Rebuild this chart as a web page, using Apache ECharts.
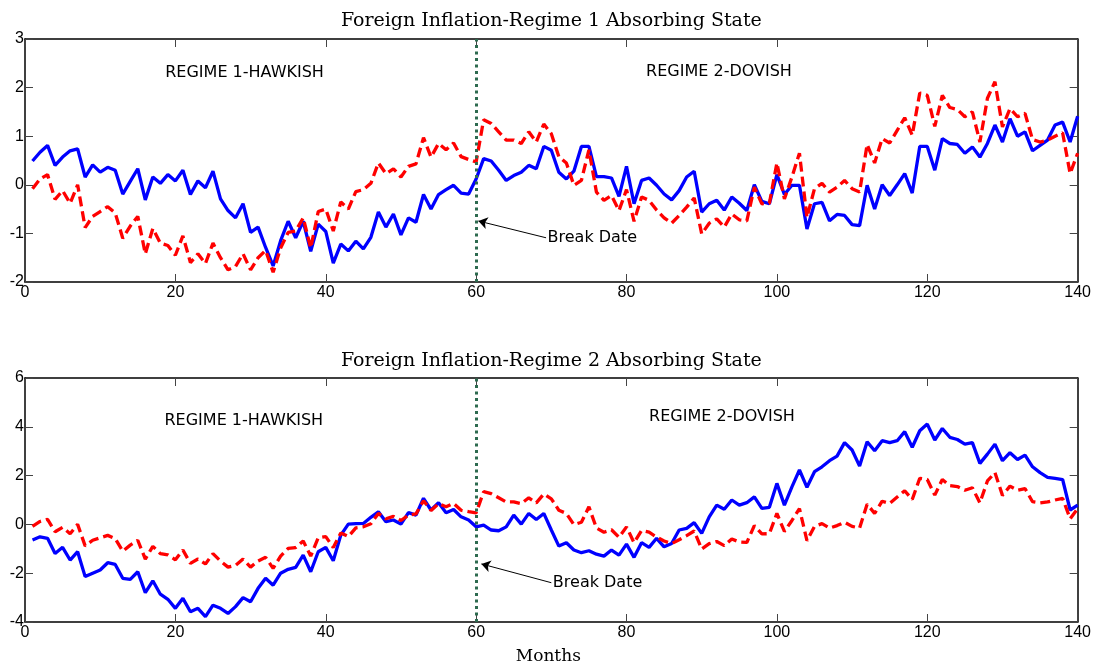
<!DOCTYPE html>
<html>
<head>
<meta charset="utf-8">
<script src="https://cdn.jsdelivr.net/npm/echarts@6/dist/echarts.min.js"></script>
<style>html,body{margin:0;padding:0;background:#fff}#c{width:1094px;height:666px}</style>
</head>
<body>
<div id="c"></div>
<script>
// Months 1..140
const months = Array.from({length: 140}, (_, i) => i + 1);

// Red dashed series (same path in both panels)
const redSeries = [
-0.08,0.12,0.21,-0.3,-0.12,-0.38,0.0,-0.88,-0.65,-0.55,
-0.45,-0.58,-1.1,-0.85,-0.65,-1.42,-0.9,-1.2,-1.25,-1.45,
-1.05,-1.6,-1.42,-1.62,-1.2,-1.5,-1.75,-1.68,-1.42,-1.75,
-1.5,-1.35,-1.8,-1.3,-0.98,-0.95,-0.68,-1.3,-0.55,-0.5,
-0.95,-0.35,-0.5,-0.14,-0.1,0.03,0.45,0.23,0.33,0.16,
0.38,0.43,0.97,0.57,0.85,0.72,0.86,0.58,0.52,0.47,
1.34,1.26,1.09,0.92,0.92,0.85,1.09,0.88,1.25,1.05,
0.58,0.45,-0.01,0.09,0.72,-0.15,-0.32,-0.22,-0.53,-0.1,
-0.75,-0.25,-0.32,-0.52,-0.68,-0.79,-0.63,-0.46,-0.27,-1.01,
-0.79,-0.7,-0.87,-0.6,-0.72,-0.74,-0.05,-0.39,-0.38,0.45,
-0.29,0.16,0.65,-0.67,-0.08,0.03,-0.15,-0.05,0.09,-0.08,
-0.15,0.83,0.45,0.95,0.86,1.12,1.38,1.02,1.89,1.84,
1.2,1.84,1.59,1.55,1.4,1.5,0.88,1.78,2.12,1.19,
1.57,1.4,1.47,0.93,0.88,0.92,1.0,1.07,0.23,0.65
];

// Blue solid series, top panel (Regime 1 absorbing)
const blueTop = [
0.49,0.67,0.81,0.40,0.57,0.70,0.74,0.16,0.41,0.26,
0.36,0.30,-0.19,0.07,0.33,-0.31,0.16,0.03,0.21,0.08,
0.30,-0.20,0.08,-0.06,0.28,-0.29,-0.53,-0.68,-0.39,-0.98,
-0.87,-1.29,-1.67,-1.15,-0.75,-1.09,-0.75,-1.37,-0.81,-0.96,
-1.61,-1.22,-1.36,-1.16,-1.32,-1.08,-0.56,-0.87,-0.6,-1.03,
-0.68,-0.77,-0.2,-0.5,-0.2,-0.1,-0.01,-0.17,-0.19,0.12,
0.54,0.49,0.3,0.09,0.19,0.26,0.4,0.33,0.79,0.71,
0.26,0.12,0.28,0.79,0.79,0.17,0.17,0.14,-0.24,0.38,
-0.39,0.09,0.14,-0.01,-0.19,-0.31,-0.12,0.16,0.28,-0.56,
-0.39,-0.32,-0.52,-0.25,-0.38,-0.53,0.0,-0.34,-0.39,0.21,
-0.2,-0.01,-0.01,-0.91,-0.39,-0.36,-0.74,-0.61,-0.63,-0.82,
-0.84,-0.01,-0.5,0.0,-0.22,0.0,0.23,-0.17,0.79,0.79,
0.3,0.95,0.85,0.83,0.65,0.78,0.57,0.85,1.23,0.88,
1.36,1.0,1.09,0.7,0.81,0.92,1.23,1.29,0.88,1.41
];

// Blue solid series, bottom panel (Regime 2 absorbing)
const blueBottom = [
-0.64,-0.51,-0.57,-1.19,-0.94,-1.46,-1.12,-2.14,-2.0,-1.87,
-1.57,-1.64,-2.21,-2.25,-1.94,-2.8,-2.31,-2.86,-3.07,-3.44,
-3.03,-3.58,-3.44,-3.78,-3.31,-3.44,-3.65,-3.37,-3.0,-3.17,
-2.62,-2.21,-2.49,-2.0,-1.84,-1.76,-1.26,-1.94,-1.12,-0.94,
-1.49,-0.44,0.01,0.03,0.04,0.29,0.52,0.11,0.18,0.01,
0.48,0.38,1.07,0.59,0.89,0.48,0.61,0.31,0.18,-0.1,
-0.03,-0.23,-0.26,-0.1,0.38,0.01,0.45,0.2,0.45,-0.23,
-0.89,-0.75,-1.05,-1.16,-1.08,-1.22,-1.3,-1.05,-1.26,-0.81,
-1.35,-0.75,-0.94,-0.57,-0.92,-0.78,-0.23,-0.16,0.07,-0.37,
0.31,0.79,0.62,1.0,0.79,0.89,1.13,0.66,0.7,1.68,
0.79,1.54,2.23,1.52,2.16,2.36,2.61,2.8,3.35,3.05,
2.39,3.39,3.02,3.43,3.35,3.43,3.8,3.16,3.84,4.11,
3.46,3.93,3.57,3.48,3.29,3.35,2.5,2.88,3.29,2.61,
2.94,2.66,2.84,2.36,2.12,1.93,1.89,1.84,0.59,0.79
];

const titles = ['Foreign Inflation-Regime 1 Absorbing State', 'Foreign Inflation-Regime 2 Absorbing State'];
const xAxisName = 'Months';
const breakMonth = 60;
const xTicks = {min: 0, max: 140, interval: 20};
const yTicksTop = {min: -2, max: 3, interval: 1};
const yTicksBottom = {min: -4, max: 6, interval: 2};

// Annotations in data coordinates
const notes = [
  {panel: 0, text: 'REGIME 1-HAWKISH', at: [29.2, 2.3], align: 'center'},
  {panel: 0, text: 'REGIME 2-DOVISH', at: [92.3, 2.32], align: 'center'},
  {panel: 0, text: 'Break Date', at: [69.5, -1.1], align: 'left'},
  {panel: 1, text: 'REGIME 1-HAWKISH', at: [29.1, 4.25], align: 'center'},
  {panel: 1, text: 'REGIME 2-DOVISH', at: [92.7, 4.41], align: 'center'},
  {panel: 1, text: 'Break Date', at: [70.2, -2.39], align: 'left'}
];
const arrows = [
  {panel: 0, from: [69.3, -1.09], to: [60.3, -0.745]},
  {panel: 1, from: [70.0, -2.39], to: [60.7, -1.62]}
];

const pairs = (ys) => months.map((m, i) => [m, ys[i]]);

const chart = echarts.init(document.getElementById('c'), null, {renderer: 'canvas'});

const SANS = 'Liberation Sans, Arial, sans-serif';
function xAx(grid, pos) {
  return {
    gridIndex: grid, type: 'value', position: pos, min: xTicks.min, max: xTicks.max, interval: xTicks.interval,
    axisLine: {show: true, onZero: false, lineStyle: {color: '#000', width: 1.5}},
    axisTick: {show: true, inside: true, length: 8, lineStyle: {color: '#444', width: 1}},
    axisLabel: {show: pos === 'bottom', color: '#000', fontSize: 16, fontFamily: SANS, margin: 3},
    splitLine: {show: false}
  };
}
function yAx(grid, pos, t) {
  return {
    gridIndex: grid, type: 'value', position: pos, min: t.min, max: t.max, interval: t.interval,
    axisLine: {show: true, onZero: false, lineStyle: {color: '#000', width: 1.5}},
    axisTick: {show: true, inside: true, length: 8, lineStyle: {color: '#444', width: 1}},
    axisLabel: {show: pos === 'left', color: '#000', fontSize: 16, fontFamily: SANS, margin: 1},
    splitLine: {show: false}
  };
}

function panelSeries(panel, blue) {
  const xi = panel * 2, yi = panel * 2;
  const ar = arrows[panel];
  const yt = panel ? yTicksBottom : yTicksTop;
  return [
    {type: 'line', xAxisIndex: xi, yAxisIndex: yi, data: pairs(blue), showSymbol: false, symbol: 'none',
     lineStyle: {color: '#0000ff', width: 3.3}, z: 2, animation: false},
    {type: 'line', xAxisIndex: xi, yAxisIndex: yi, data: pairs(redSeries), showSymbol: false, symbol: 'none',
     lineStyle: {color: '#ff0000', width: 3.3, type: [10, 5]}, z: 3, animation: false},
    {type: 'line', xAxisIndex: xi, yAxisIndex: yi, data: [], z: 4, animation: false,
     markLine: {silent: true, animation: false, label: {show: false},
       data: [
         [{coord: [breakMonth, yt.min], symbol: 'none'},
          {coord: [breakMonth, yt.max], symbol: 'none'}]
       ],
       lineStyle: {color: '#2d6a4f', width: 3, type: [3, 3.5]}}},
    {type: 'line', xAxisIndex: xi, yAxisIndex: yi, data: [], z: 5, animation: false,
     markLine: {silent: true, animation: false, label: {show: false}, symbolSize: 9,
       data: [[{coord: ar.from, symbol: 'none'}, {coord: ar.to, symbol: 'arrow'}]],
       lineStyle: {color: '#000', width: 1, type: 'solid'}}}
  ];
}

chart.setOption({
  animation: false,
  backgroundColor: '#fff',
  grid: [
    {left: 25, right: 16, top: 39, height: 243},
    {left: 25, right: 16, top: 378, height: 244}
  ],
  xAxis: [xAx(0, 'bottom'), xAx(0, 'top'), xAx(1, 'bottom'), xAx(1, 'top')],
  yAxis: [yAx(0, 'left', yTicksTop), yAx(0, 'right', yTicksTop), yAx(1, 'left', yTicksBottom), yAx(1, 'right', yTicksBottom)],
  series: [].concat(panelSeries(0, blueTop), panelSeries(1, blueBottom))
});

// Text annotations positioned from data coordinates
const graphics = [];
notes.forEach(n => {
  const p = chart.convertToPixel({xAxisIndex: n.panel * 2, yAxisIndex: n.panel * 2}, n.at);
  graphics.push({type: 'text', x: p[0], y: p[1], z: 10,
    style: {text: n.text, fill: '#000', font: '16px "DejaVu Sans", sans-serif', textAlign: n.align, textVerticalAlign: 'middle'}});
});
const midX = chart.convertToPixel({xAxisIndex: 0}, 70);
graphics.push({type: 'text', x: midX, y: 21, style: {text: titles[0], fill: '#000', font: '19px "DejaVu Serif", serif', textAlign: 'center', textVerticalAlign: 'middle'}});
graphics.push({type: 'text', x: midX, y: 361, style: {text: titles[1], fill: '#000', font: '19px "DejaVu Serif", serif', textAlign: 'center', textVerticalAlign: 'middle'}});
graphics.push({type: 'text', x: midX - 3, y: 657, style: {text: xAxisName, fill: '#000', font: '17px "DejaVu Serif", serif', textAlign: 'center', textVerticalAlign: 'middle'}});
chart.setOption({graphic: graphics});
</script>
</body>
</html>
